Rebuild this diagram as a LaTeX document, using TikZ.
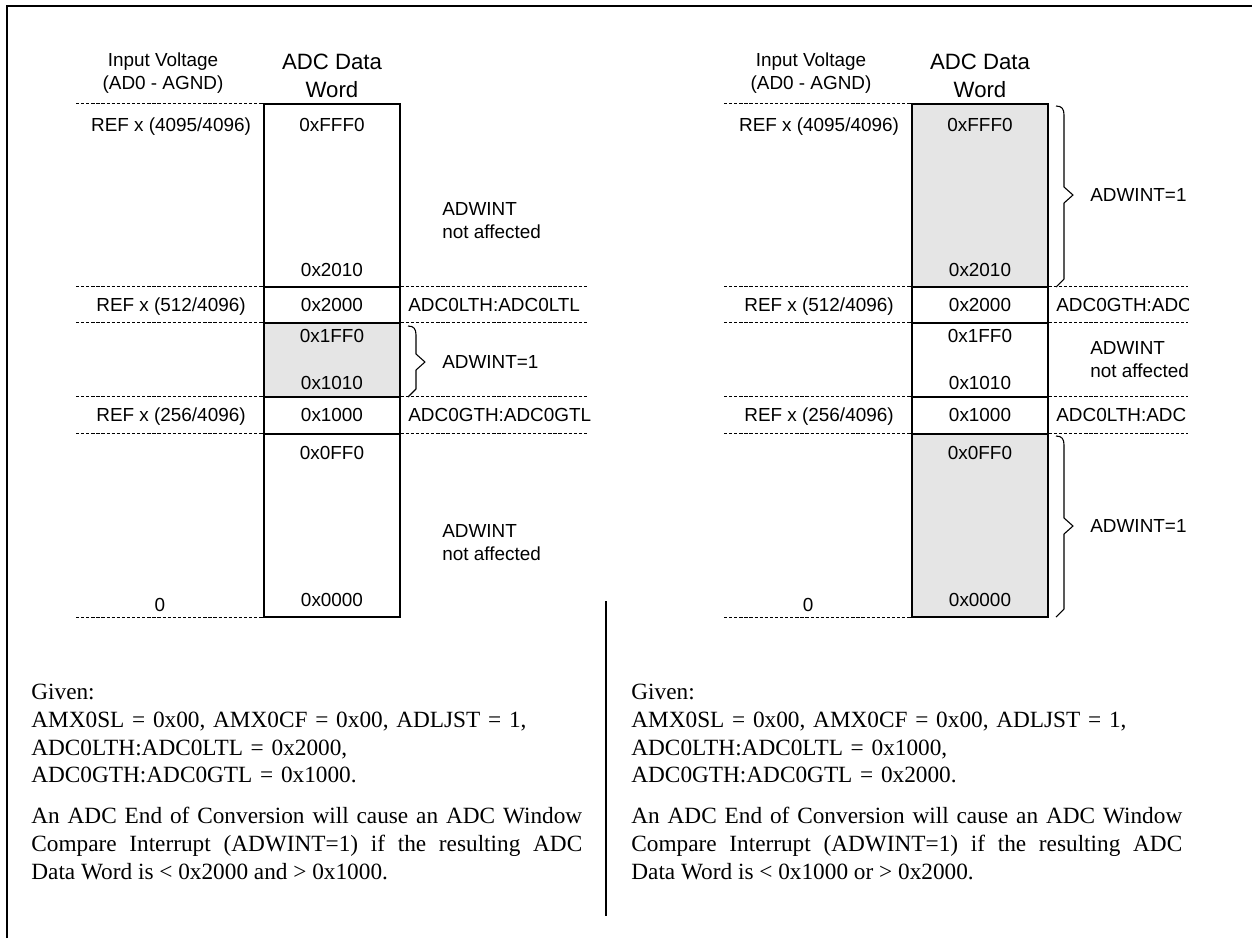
\documentclass[tikz,border=0pt]{standalone}
\usepackage{fontspec}
\setmainfont{Liberation Serif}
\setsansfont{Liberation Sans}
\usetikzlibrary{positioning,fit}

\begin{document}
\begin{tikzpicture}[
  x=0.55pt, y=-0.55pt,
  lbl/.style={font=\sffamily\fontsize{10.4}{12.6}\selectfont, inner sep=0pt,
              text height=7.4pt, text depth=0pt},
  hdr/.style={font=\sffamily\fontsize{10.4}{12.6}\selectfont, align=center, inner sep=0pt},
  big/.style={font=\sffamily\fontsize{12.2}{15.4}\selectfont, align=center, inner sep=0pt},
  cell/.style={draw, line width=0.7pt, inner sep=0pt},
  hit/.style={cell, fill=black!10},
  guide/.style={line width=0.5pt, dash pattern=on 1.8pt off 1pt},
  brc/.style={line width=0.6pt, line join=round},
  note/.style={font=\fontsize{12.8}{15.2}\selectfont, inner sep=0pt, text width=303pt},
  frm/.style={line width=1.1pt}
]
\useasboundingbox (0,0) rectangle (1252,938);

% ---- outer frame (top and left edge only)
\draw[frm] (6.5,938) -- (6.5,5.5) -- (1252,5.5);

% ---- left panel: interrupt inside the window
\node[hdr] (lin) at (163,73) {Input Voltage\\(AD0 - AGND)};
\node[big] (lword) at (332,76) {ADC Data\\Word};

\node[cell, fit={(264,104) (400,287)}] (lc1) {};
\node[cell, fit={(264,287) (400,323)}] (lc2) {};
\node[hit,  fit={(264,323) (400,397)}] (lc3) {};
\node[cell, fit={(264,397) (400,434)}] (lc4) {};
\node[cell, fit={(264,434) (400,617)}] (lc5) {};

\coordinate (lgl) at (76,0);
\coordinate (lgr) at (588,0);
\draw[guide] (lgl |- lc1.north) -- (lc1.north west);
\draw[guide] (lgl |- lc2.north) -- (lc2.north west);
\draw[guide] (lc2.north east) -- (lgr |- lc2.north);
\draw[guide] (lgl |- lc3.north) -- (lc3.north west);
\draw[guide] (lc3.north east) -- (lgr |- lc3.north);
\draw[guide] (lgl |- lc4.north) -- (lc4.north west);
\draw[guide] (lc4.north east) -- (lgr |- lc4.north);
\draw[guide] (lgl |- lc5.north) -- (lc5.north west);
\draw[guide] (lc5.north east) -- (lgr |- lc5.north);
\draw[guide] (lgl |- lc5.south) -- (lc5.south west);

\node[lbl] (lr1) at (171,125) {REF x (4095/4096)};
\node[lbl] (lr2) at (171,305) {REF x (512/4096)};
\node[lbl] (lr3) at (171,415) {REF x (256/4096)};
\node[lbl] (lr4) at (160,605) {0};

\node[lbl] (lv1) at (332,125) {0xFFF0};
\node[lbl] (lv2) at (332,270) {0x2010};
\node[lbl] (lv3) at (332,305) {0x2000};
\node[lbl] (lv4) at (332,336) {0x1FF0};
\node[lbl] (lv5) at (332,383) {0x1010};
\node[lbl] (lv6) at (332,415) {0x1000};
\node[lbl] (lv7) at (332,453) {0x0FF0};
\node[lbl] (lv8) at (332,600) {0x0000};

\node[lbl, anchor=west] (lt1) at (408,305) {ADC0LTH:ADC0LTL};
\node[lbl, anchor=west] (lt2) at (408,415) {ADC0GTH:ADC0GTL};

\node[hdr, align=left, anchor=west] (ln1) at (442,221) {ADWINT\\not affected};
\node[hdr, align=left, anchor=west] (ln2) at (442,543) {ADWINT\\not affected};
\node[lbl, anchor=west] (lw1) at (442,362) {ADWINT=1};

\draw[brc] (408,326) .. controls (414,326) and (416,329) .. (416,335)
  -- (416,354) -- (425,362) -- (416,370) -- (416,389) -- (408,397);

% ---- right panel: interrupt outside the window
\node[hdr] (rin) at (811,73) {Input Voltage\\(AD0 - AGND)};
\node[big] (rword) at (980,76) {ADC Data\\Word};

\node[hit,  fit={(912,104) (1048,287)}] (rc1) {};
\node[cell, fit={(912,287) (1048,323)}] (rc2) {};
\node[cell, fit={(912,323) (1048,397)}] (rc3) {};
\node[cell, fit={(912,397) (1048,434)}] (rc4) {};
\node[hit,  fit={(912,434) (1048,617)}] (rc5) {};

\coordinate (rgl) at (724,0);
\coordinate (rgr) at (1188,0);
\draw[guide] (rgl |- rc1.north) -- (rc1.north west);
\draw[guide] (rgl |- rc2.north) -- (rc2.north west);
\draw[guide] (rc2.north east) -- (rgr |- rc2.north);
\draw[guide] (rgl |- rc3.north) -- (rc3.north west);
\draw[guide] (rc3.north east) -- (rgr |- rc3.north);
\draw[guide] (rgl |- rc4.north) -- (rc4.north west);
\draw[guide] (rc4.north east) -- (rgr |- rc4.north);
\draw[guide] (rgl |- rc5.north) -- (rc5.north west);
\draw[guide] (rc5.north east) -- (rgr |- rc5.north);
\draw[guide] (rgl |- rc5.south) -- (rc5.south west);

\node[lbl] (rr1) at (819,125) {REF x (4095/4096)};
\node[lbl] (rr2) at (819,305) {REF x (512/4096)};
\node[lbl] (rr3) at (819,415) {REF x (256/4096)};
\node[lbl] (rr4) at (808,605) {0};

\node[lbl] (rv1) at (980,125) {0xFFF0};
\node[lbl] (rv2) at (980,270) {0x2010};
\node[lbl] (rv3) at (980,305) {0x2000};
\node[lbl] (rv4) at (980,336) {0x1FF0};
\node[lbl] (rv5) at (980,383) {0x1010};
\node[lbl] (rv6) at (980,415) {0x1000};
\node[lbl] (rv7) at (980,453) {0x0FF0};
\node[lbl] (rv8) at (980,600) {0x0000};

\begin{scope}
  \clip (1048,0) rectangle (1188,938);
  \node[lbl, anchor=west] (rt1) at (1056,305) {ADC0GTH:ADC};
  \node[lbl, anchor=west] (rt2) at (1056,415) {ADC0LTH:ADC};
  \node[hdr, align=left, anchor=west] (rn1) at (1090,360) {ADWINT\\not affected};
\end{scope}
\node[lbl, anchor=west] (rw1) at (1090,195) {ADWINT=1};
\node[lbl, anchor=west] (rw2) at (1090,526) {ADWINT=1};

\draw[brc] (1056,106) .. controls (1062,106) and (1064,109) .. (1064,115)
  -- (1064,187) -- (1073,195) -- (1064,203) -- (1064,279) -- (1056,287);
\draw[brc] (1056,436) .. controls (1062,436) and (1064,439) .. (1064,445)
  -- (1064,518) -- (1073,526) -- (1064,534) -- (1064,609) -- (1056,617);

% ---- divider between the two cases
\coordinate (dtop) at (606,601);
\coordinate (dbot) at (606,916);
\draw[line width=0.7pt] (dtop) -- (dbot);

% ---- register settings and result text
\node[note, align=left, anchor=north west] (lgiven) at (31,684)
  {Given:\\AMX0SL = 0x00, AMX0CF = 0x00, ADLJST = 1,\\ADC0LTH:ADC0LTL = 0x2000,\\ADC0GTH:ADC0GTL = 0x1000.};
\node[note, align=justify, below right=13pt and 0pt of lgiven.south west] (lcause)
  {An ADC End of Conversion will cause an ADC Window\linebreak
   Compare Interrupt (ADWINT=1) if the resulting ADC\linebreak
   Data Word is < 0x2000 and > 0x1000.};

\node[note, align=left, anchor=north west] (rgiven) at (631,684)
  {Given:\\AMX0SL = 0x00, AMX0CF = 0x00, ADLJST = 1,\\ADC0LTH:ADC0LTL = 0x1000,\\ADC0GTH:ADC0GTL = 0x2000.};
\node[note, align=justify, below right=13pt and 0pt of rgiven.south west] (rcause)
  {An ADC End of Conversion will cause an ADC Window\linebreak
   Compare Interrupt (ADWINT=1) if the resulting ADC\linebreak
   Data Word is < 0x1000 or > 0x2000.};
\end{tikzpicture}
\end{document}
